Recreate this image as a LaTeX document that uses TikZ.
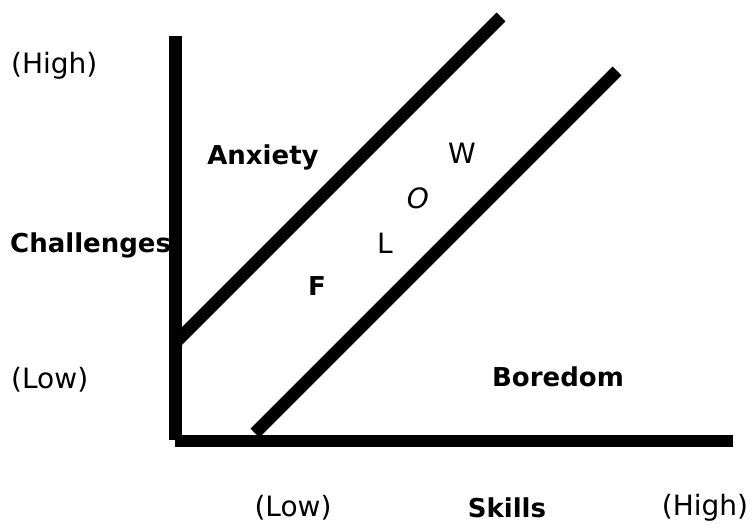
\documentclass[tikz,border=0pt]{standalone}
\usepackage{fontspec}
\setmainfont{DejaVu Sans}
\begin{document}
\begin{tikzpicture}[x=1pt,y=-1pt,
  axis/.style={line width=13pt},
  band/.style={line width=12.5pt},
  lbl/.style={inner sep=0pt,font=\fontsize{28}{32}\selectfont},
  blbl/.style={inner sep=0pt,font=\fontsize{26}{30}\selectfont\bfseries}]
\useasboundingbox (0,0) rectangle (753,528);
% axes
\coordinate (vtop) at (175.5,36);
\coordinate (vbot) at (175.5,440);
\coordinate (hl) at (175,441);
\coordinate (hr) at (733,441);
\draw[axis] (vtop) -- (vbot);
\draw[axis,line width=12pt] (hl) -- (hr);
% diagonals
\coordinate (u1) at (176,342);
\coordinate (u2) at (501,17);
\coordinate (l1) at (255,433);
\coordinate (l2) at (617,71);
\draw[band] (u1) -- (u2);
\draw[band] (l1) -- (l2);
% labels
\node[lbl,anchor=west] (yhigh) at (11,66) {(High)};
\node[blbl,anchor=west] (ychal) at (10,245) {Challenges};
\node[lbl,anchor=west] (ylow) at (11,380) {(Low)};
\node[blbl] (anx) at (263,157) {Anxiety};
\node[blbl] (bor) at (558,377) {Boredom};
\node[blbl] (ff) at (317,286) {F};
\node[lbl] (fl) at (385,243) {L};
\node[lbl,font=\fontsize{28}{32}\selectfont\itshape] (fo) at (418,198) {O};
\node[lbl] (fw) at (462,153) {W};
\node[lbl] (xlow) at (293,508) {(Low)};
\node[blbl] (xsk) at (507,508) {Skills};
\node[lbl] (xhigh) at (705,508) {(High)};
\end{tikzpicture}
\end{document}
